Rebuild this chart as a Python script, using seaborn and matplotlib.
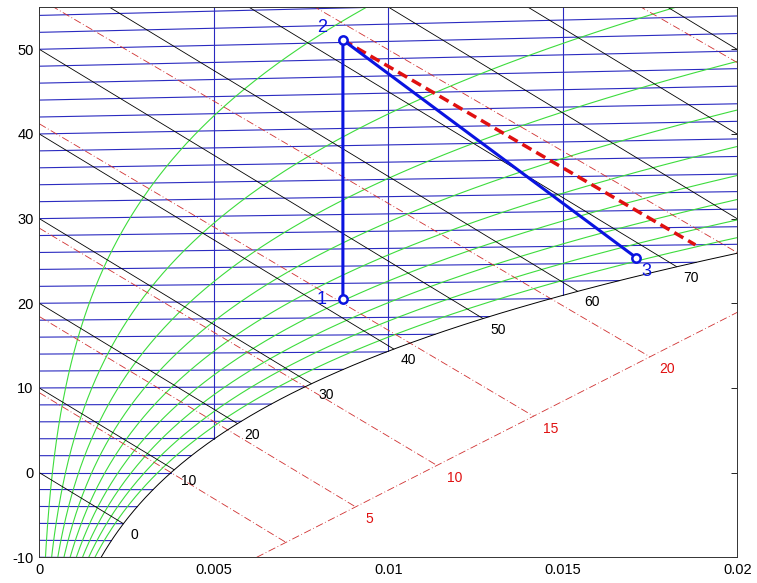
import numpy as np
import pandas as pd
import matplotlib
matplotlib.use("Agg")
import matplotlib.pyplot as plt
import seaborn as sns

# chart families
isotherm_temps = list(range(-10, 56, 2))          # dry-bulb lines (degC)
rh_levels = [0.1, 0.2, 0.3, 0.4, 0.5, 0.6, 0.7, 0.8, 0.9]
enthalpy_levels = [0, 10, 20, 30, 40, 50, 60, 70, 80, 90, 100]   # kJ/kg
enthalpy_labels = ['0', '10', '20', '30', '40', '50', '60', '70']
wetbulb_temps = [0, 5, 10, 15, 20, 25, 30]
wetbulb_labels = ['5', '10', '15', '20']
moisture_grid = [0.005, 0.01, 0.015]

# process 1 -> 2 -> 3
proc_names = ['1', '2', '3']
proc_w = [0.0087, 0.0087, 0.0171]
proc_y = [20.5, 51.1, 25.4]
# wet-bulb line through state 2
ref_w = [0.0087, 0.0188]
ref_y = [51.1, 26.9]
# fog-region axis carrying the wet-bulb labels
fog_w = [0.00623, 0.020]
fog_y = [-10.0, 18.93]

W_MAX, Y_MIN, Y_MAX = 0.02, -10, 55
P = 101.325


def psat(t):
    return 0.6112 * np.exp(17.62 * t / (243.12 + t))


def w_of(t, phi=1.0):
    pv = phi * psat(t)
    return 0.622 * pv / (P - pv)


def y_of(t, w):
    # Mollier ordinate: h - 2501 w
    return t * (1 + 1.86 * w)


t_grid = np.linspace(-12, 60, 1500)
ws_grid = w_of(t_grid)
hs_grid = t_grid + ws_grid * (2501 + 1.86 * t_grid)


def family(curves):
    rows = []
    for lvl, (ws, ys) in enumerate(curves):
        rows += [(a, b, lvl) for a, b in zip(ws, ys)]
    return pd.DataFrame(rows, columns=['w', 'y', 'level'])


# saturation curve
ts = np.linspace(-11, 28, 300)
sat_df = family([(w_of(ts), y_of(ts, w_of(ts)))])

# relative humidity curves
tr = np.linspace(-11, 57, 300)
rh_df = family([(w_of(tr, p), y_of(tr, w_of(tr, p))) for p in rh_levels])

# isotherms
iso = []
for t in isotherm_temps:
    we = min(w_of(t), W_MAX)
    iso.append(([0, we], [y_of(t, 0), y_of(t, we)]))
iso_df = family(iso)

# constant moisture lines
vert = []
for w in moisture_grid:
    t_s = np.interp(w, ws_grid, t_grid)
    vert.append(([w, w], [y_of(t_s, w), Y_MAX]))
vert_df = family(vert)

# enthalpy lines
ent, ent_ends = [], []
for h in enthalpy_levels:
    t_e = np.interp(h, hs_grid, t_grid)
    we = min(w_of(t_e), W_MAX)
    ent.append(([0, we], [h, h - 2501 * we]))
    ent_ends.append((we, h - 2501 * we))
ent_df = family(ent)

# wet-bulb lines extended into the fog region
slope = (fog_y[1] - fog_y[0]) / (fog_w[1] - fog_w[0])
icpt = fog_y[0] - slope * fog_w[0]
wb, wb_ends = [], []
for tw in wetbulb_temps:
    wsw = w_of(tw)
    h0 = tw + wsw * (2501 + 1.86 * tw) - 4.19 * tw * wsw
    k = 4.19 * tw - 2501
    we = (h0 - icpt) / (slope - k)
    wb.append(([0, we], [h0, h0 + k * we]))
    wb_ends.append((we, h0 + k * we))
wb_df = family(wb)
fog_df = family([(fog_w, fog_y)])

sns.set_style("white")
plt.rcParams['font.family'] = ['Liberation Sans', 'DejaVu Sans']
plt.rcParams['axes.unicode_minus'] = False

fig = plt.figure(figsize=(7.57, 5.83), dpi=100)
ax = fig.add_axes([0.0519, 0.0441, 0.922, 0.944])

common = dict(x='w', y='y', units='level', estimator=None, sort=False, legend=False, ax=ax)
sns.lineplot(data=iso_df, color='#2a2ac0', linewidth=0.8, **common)
sns.lineplot(data=vert_df, color='#2a2ac0', linewidth=0.8, **common)
sns.lineplot(data=rh_df, color='#3ddc3d', linewidth=0.8, **common)
sns.lineplot(data=ent_df, color='black', linewidth=0.6, **common)
sns.lineplot(data=wb_df, color='#d03030', linewidth=0.6, linestyle=(0, (9, 3, 1, 3)), **common)
sns.lineplot(data=fog_df, color='#d03030', linewidth=0.6, linestyle=(0, (9, 3, 1, 3)), **common)
sns.lineplot(data=sat_df, color='black', linewidth=0.7, **common)

for (we, ye), lab in zip(ent_ends, enthalpy_labels):
    ax.annotate(lab, (we, ye), xytext=(5, -8), textcoords='offset points',
                ha='left', va='center', fontsize=10, color='black')
for (we, ye), lab in zip(wb_ends[1:], wetbulb_labels):
    ax.annotate(lab, (we, ye), xytext=(7, -9), textcoords='offset points',
                ha='left', va='center', fontsize=10, color='#e01010')

# process path
ax.plot(ref_w, ref_y, color='#e01010', linewidth=2.5, linestyle=(0, (3, 1.6)), zorder=5)
ax.plot(proc_w, proc_y, color='#0a14e0', linewidth=2.2, marker='o', markersize=6,
        markerfacecolor='white', markeredgewidth=1.8, zorder=6)
offsets = [(-12, 0, 'right', 'center'), (-11, 9, 'right', 'center'), (4, -10, 'left', 'center')]
for name, w, y, (dx, dy, ha, va) in zip(proc_names, proc_w, proc_y, offsets):
    ax.annotate(name, (w, y), xytext=(dx, dy), textcoords='offset points',
                ha=ha, va=va, fontsize=13, color='#0a14e0')

ax.set_xlim(0, W_MAX)
ax.set_ylim(Y_MIN, Y_MAX)
ax.set_xticks([0, 0.005, 0.01, 0.015, 0.02])
ax.set_xticklabels(['0', '0.005', '0.01', '0.015', '0.02'])
ax.set_yticks(range(-10, 51, 10))
ax.set_xlabel('')
ax.set_ylabel('')
ax.tick_params(direction='in', length=4, width=0.6, top=True, right=True,
               labelsize=10.5, colors='black', pad=4)
for sp in ax.spines.values():
    sp.set_linewidth(0.7)
    sp.set_color('#333333')

fig.savefig('out.png', dpi=100)
